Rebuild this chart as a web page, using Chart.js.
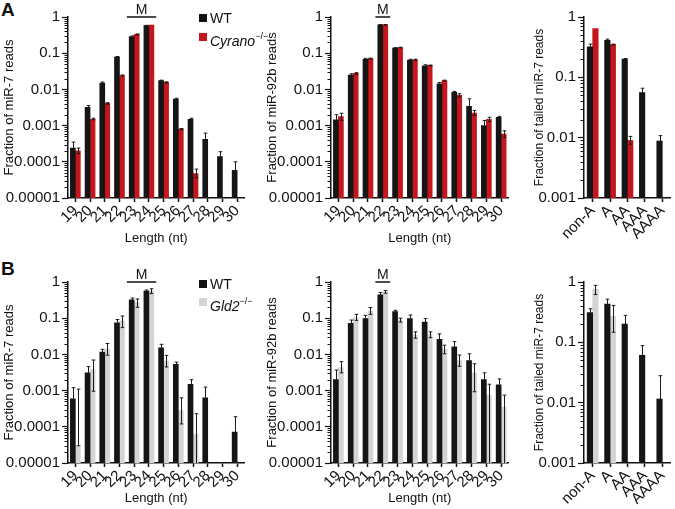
<!DOCTYPE html>
<html>
<head>
<meta charset="utf-8">
<script src="https://cdn.jsdelivr.net/npm/chart.js@4.4.1/dist/chart.umd.min.js"></script>
<style>
    body { margin: 0; background: #fff; font-family: "Liberation Sans", Arial, sans-serif; color: #111; }
    #fig { position: relative; width: 675px; height: 509px; overflow: hidden; }
    #fig canvas { position: absolute; }
    .panel-tag { position: absolute; font-weight: bold; font-size: 19px; line-height: 19px; }
    .leg { position: absolute; font-size: 14px; line-height: 14px; white-space: nowrap; }
    .leg .sw { position: absolute; left: -11px; top: 3px; width: 8px; height: 8px; }
    .leg sup { font-size: 9px; position: relative; top: -1px; }
</style>
</head>
<body>
<div id="fig">
    <div class="panel-tag" style="left:1px;top:0px">A</div>
    <div class="panel-tag" style="left:1px;top:259px">B</div>

    <canvas id="a7" width="250" height="250" style="left:0;top:0"></canvas>
    <canvas id="a92" width="252" height="250" style="left:262px;top:0"></canvas>
    <canvas id="aTail" width="160" height="250" style="left:515px;top:0"></canvas>
    <canvas id="b7" width="250" height="254" style="left:0;top:255px"></canvas>
    <canvas id="b92" width="252" height="254" style="left:262px;top:255px"></canvas>
    <canvas id="bTail" width="160" height="254" style="left:515px;top:255px"></canvas>

    <div class="leg" style="left:210px;top:11px"><span class="sw" style="background:#111"></span>WT</div>
    <div class="leg" style="left:210px;top:30px"><span class="sw" style="background:#c4161c"></span><i>Cyrano</i><sup>−/−</sup></div>
    <div class="leg" style="left:210px;top:277px"><span class="sw" style="background:#111"></span>WT</div>
    <div class="leg" style="left:210px;top:295px"><span class="sw" style="background:#d4d4d4"></span><i>Gld2</i><sup>−/−</sup></div>
</div>
<script>
(() => {
    'use strict';

    // categories
    const lengths = ['19', '20', '21', '22', '23', '24', '25', '26', '27', '28', '29', '30'];
    const tails = ['non-A', 'A', 'AA', 'AAA', 'AAAA'];

    // y tick labels (log axes)
    const lenDecades = [1e-5, 1e-4, 1e-3, 1e-2, 1e-1, 1];
    const lenTickLabels = ['0.00001', '0.0001', '0.001', '0.01', '0.1', '1'];
    const tailDecades = [1e-3, 1e-2, 1e-1, 1];
    const tailTickLabels = ['0.001', '0.01', '0.1', '1'];

    // A, miR-7 length distribution
    const a7Wt    = [2.4e-4, 3.2e-3, 0.015, 0.078, 0.29, 0.58, 0.0174, 0.0054, 0.0015, 4.2e-4, 1.4e-4, 5.8e-5];
    const a7WtHi  = [3.5e-4, 3.6e-3, 0.016, 0.081, 0.30, 0.59, 0.018, 0.0057, 0.0016, 6.2e-4, 1.9e-4, 1.0e-4];
    const a7Cy    = [2.0e-4, 1.5e-3, 0.0041, 0.024, 0.33, 0.60, 0.0157, 8.0e-4, 4.7e-5, null, null, null];
    const a7CyLo  = [1.7e-4, 1.45e-3, 0.0039, 0.0235, 0.32, null, 0.015, 7.7e-4, 3.6e-5, null, null, null];
    const a7CyHi  = [2.4e-4, 1.6e-3, 0.0043, 0.025, 0.34, null, 0.0162, 8.3e-4, 6.3e-5, null, null, null];

    // A, miR-92b length distribution
    const a92Wt   = [1.44e-3, 0.025, 0.068, 0.61, 0.138, 0.065, 0.045, 0.0143, 0.0083, 0.0034, 0.0010, 0.0017];
    const a92WtHi = [2.0e-3, 0.027, 0.072, 0.62, 0.142, 0.068, 0.048, 0.0155, 0.0088, 0.0055, 0.00138, 0.0018];
    const a92Cy   = [1.78e-3, 0.0277, 0.071, 0.61, 0.143, 0.066, 0.046, 0.0175, 0.0069, 0.0022, 0.0015, 5.8e-4];
    const a92CyLo = [1.4e-3, 0.026, 0.069, 0.60, 0.14, 0.064, 0.045, 0.017, 0.0062, 0.0019, 0.0013, 4.7e-4];
    const a92CyHi = [2.2e-3, 0.029, 0.073, 0.62, 0.146, 0.068, 0.047, 0.018, 0.0076, 0.0026, 0.0017, 7.2e-4];

    // A, tailed miR-7
    const aTailWt   = [0.32, 0.41, 0.20, 0.056, 0.0088];
    const aTailWtHi = [0.355, 0.43, 0.205, 0.066, 0.0108];
    const aTailCy   = [0.64, 0.35, 0.009, null, null];
    const aTailCyLo = [null, 0.345, 0.0078, null, null];
    const aTailCyHi = [null, 0.355, 0.0105, null, null];

    // B, miR-7 length distribution
    const b7Wt    = [5.9e-4, 3.1e-3, 0.0116, 0.075, 0.32, 0.56, 0.0153, 0.0053, 0.0015, 6.3e-4, null, 7.2e-5];
    const b7WtHi  = [1.2e-3, 4.6e-3, 0.0138, 0.092, 0.36, 0.60, 0.019, 0.0061, 0.0020, 1.25e-3, null, 1.9e-4];
    const b7Gl    = [3.0e-5, 3.8e-3, 0.014, 0.085, 0.27, 0.57, 0.0065, 2.8e-4, 6.3e-5, null, null, null];
    const b7GlLo  = [3.0e-5, 9.6e-4, 0.0095, 0.055, 0.20, 0.48, 0.0045, 1.2e-4, 1e-5, null, null, null];
    const b7GlHi  = [1.1e-3, 7.0e-3, 0.020, 0.115, 0.34, 0.65, 0.0094, 6.3e-4, 2.3e-4, null, null, null];

    // B, miR-92b length distribution
    const b92Wt   = [2.0e-3, 0.072, 0.097, 0.44, 0.152, 0.098, 0.0785, 0.026, 0.0163, 0.0067, 0.0020, 0.00145];
    const b92WtHi = [3.7e-3, 0.089, 0.12, 0.51, 0.165, 0.123, 0.098, 0.037, 0.0225, 0.0104, 0.0031, 0.0021];
    const b92Gl   = [4.3e-3, 0.104, 0.158, 0.53, 0.089, 0.034, 0.035, 0.0138, 0.0068, 0.0031, 7.5e-4, 3.5e-4];
    const b92GlLo = [3.1e-3, 0.087, 0.128, 0.49, 0.078, 0.028, 0.029, 0.0104, 0.0047, 9.3e-4, 1e-5, 1e-5];
    const b92GlHi = [6.3e-3, 0.128, 0.197, 0.58, 0.10, 0.042, 0.042, 0.018, 0.0096, 0.0055, 1.5e-3, 7.5e-4];

    // B, tailed miR-7
    const bTailWt   = [0.31, 0.43, 0.20, 0.061, 0.0115];
    const bTailWtHi = [0.36, 0.52, 0.28, 0.088, 0.028];
    const bTailGl   = [0.76, 0.27, null, null, null];
    const bTailGlLo = [0.62, 0.147, null, null, null];
    const bTailGlHi = [0.88, 0.41, null, null, null];

    const BLACK = '#151515';
    const RED = '#c4161c';
    const GREY = '#d4d4d4';
    const FONT = '"Liberation Sans", Arial, sans-serif';

    // minor log ticks, error bars and the "M" marker
    const extrasPlugin = {
        id: 'extras',
        afterDatasetsDraw(chart, args, opts) {
            const ctx = chart.ctx;
            const xs = chart.scales.x;
            const ys = chart.scales.y;
            const area = chart.chartArea;
            ctx.save();
            ctx.strokeStyle = '#111';
            ctx.lineWidth = 1;
            const decs = opts.decades;
            for (let d = 0; d < decs.length - 1; d++) {
                for (let m = 2; m <= 9; m++) {
                    const py = Math.round(ys.getPixelForValue(decs[d] * m)) + 0.5;
                    ctx.beginPath();
                    ctx.moveTo(area.left - 3.5, py);
                    ctx.lineTo(area.left, py);
                    ctx.stroke();
                }
            }

            chart.data.datasets.forEach((ds, i) => {
                const meta = chart.getDatasetMeta(i);
                meta.data.forEach((bar, j) => {
                    if (ds.data[j] == null) {
                        return;
                    }
                    const hi = ds.errHi ? ds.errHi[j] : null;
                    const lo = ds.errLo ? ds.errLo[j] : null;
                    if (hi == null && lo == null) {
                        return;
                    }
                    const cx = Math.round(bar.x) + 0.5;
                    const top = hi != null ? ys.getPixelForValue(hi) : bar.y;
                    const bot = lo != null ? Math.min(ys.getPixelForValue(lo), area.bottom) : bar.y;
                    ctx.strokeStyle = '#1a1a1a';
                    ctx.lineWidth = 1;
                    ctx.beginPath();
                    ctx.moveTo(cx, top);
                    ctx.lineTo(cx, bot);
                    if (hi != null) {
                        ctx.moveTo(cx - 1.8, top);
                        ctx.lineTo(cx + 1.8, top);
                    }
                    if (lo != null && bot < area.bottom) {
                        ctx.moveTo(cx - 1.8, bot);
                        ctx.lineTo(cx + 1.8, bot);
                    }
                    ctx.stroke();
                });
            });

            if (opts.mark) {
                const half = (xs.getPixelForValue(1) - xs.getPixelForValue(0)) / 2;
                const x0 = xs.getPixelForValue(xs.getLabels().indexOf(opts.mark[0])) - half;
                const x1 = xs.getPixelForValue(xs.getLabels().indexOf(opts.mark[1])) + half;
                const yy = area.top;
                ctx.strokeStyle = '#111';
                ctx.lineWidth = 1.5;
                ctx.beginPath();
                ctx.moveTo(x0, yy);
                ctx.lineTo(x1, yy);
                ctx.stroke();
                ctx.fillStyle = '#111';
                ctx.font = '14px ' + FONT;
                ctx.textAlign = 'center';
                ctx.textBaseline = 'alphabetic';
                ctx.fillText('M', (x0 + x1) / 2, yy - 3);
            }
            ctx.restore();
        }
    };

    function makePanel(id, p)
    {
        const canvas = document.getElementById(id);
        return new Chart(canvas.getContext('2d'), {
            type: 'bar',
            data: {
                labels: p.labels,
                datasets: p.series.map(s => ({
                    data: s.data,
                    errLo: s.lo,
                    errHi: s.hi,
                    backgroundColor: s.color,
                    borderWidth: 0,
                    barThickness: p.barWidth
                }))
            },
            options: {
                responsive: false,
                devicePixelRatio: 1,
                animation: false,
                events: [],
                layout: { padding: { top: p.padTop, right: p.padRight, left: 0, bottom: 0 } },
                plugins: {
                    legend: { display: false },
                    tooltip: { enabled: false },
                    extras: { decades: p.decades, mark: p.mark }
                },
                scales: {
                    x: {
                        type: 'category',
                        offset: true,
                        grid: { display: true, drawOnChartArea: false, offset: false, tickLength: 4, tickWidth: 1.5, tickColor: '#111' },
                        border: { display: true, color: '#111', width: 1.5 },
                        ticks: { color: '#111', font: { family: FONT, size: 15 }, minRotation: 45, maxRotation: 45, autoSkip: false, padding: 0 },
                        title: { display: !!p.xTitle, text: p.xTitle, color: '#111', font: { family: FONT, size: 13 }, padding: { top: 0, bottom: p.xTitlePad } },
                        afterFit: (scale) => { scale.height = p.xHeight; }
                    },
                    y: {
                        type: 'logarithmic',
                        min: p.decades[0],
                        max: p.decades[p.decades.length - 1],
                        grid: { display: true, drawOnChartArea: false, tickLength: 6, tickWidth: 1.2, tickColor: '#111' },
                        border: { display: true, color: '#111', width: 1.5 },
                        afterBuildTicks: (scale) => { scale.ticks = p.decades.map(v => ({ value: v, major: true })); },
                        ticks: {
                            color: '#111',
                            font: { family: FONT, size: 15 },
                            padding: 2,
                            autoSkip: false,
                            callback: (value) => p.tickLabels[p.decades.indexOf(value)]
                        },
                        title: { display: true, text: p.yTitle, color: '#111', font: { family: FONT, size: p.yTitleSize }, padding: { top: p.yTitlePad, bottom: 0 } },
                        afterFit: (scale) => { scale.width = p.yWidth; }
                    }
                }
            },
            plugins: [extrasPlugin]
        });
    }

    makePanel('a7', {
        labels: lengths, decades: lenDecades, tickLabels: lenTickLabels,
        yTitle: 'Fraction of miR-7 reads', xTitle: 'Length (nt)', mark: ['23', '24'],
        series: [
            { data: a7Wt, hi: a7WtHi, color: BLACK },
            { data: a7Cy, lo: a7CyLo, hi: a7CyHi, color: RED }
        ],
        barWidth: 5, padTop: 17, padRight: 3, yWidth: 68, xHeight: 52, xTitlePad: 3.5, yTitlePad: 1.2, yTitleSize: 13
    });
    makePanel('a92', {
        labels: lengths, decades: lenDecades, tickLabels: lenTickLabels,
        yTitle: 'Fraction of miR-92b reads', xTitle: 'Length (nt)', mark: ['22', '22'],
        series: [
            { data: a92Wt, hi: a92WtHi, color: BLACK },
            { data: a92Cy, lo: a92CyLo, hi: a92CyHi, color: RED }
        ],
        barWidth: 5, padTop: 17, padRight: 3, yWidth: 69, xHeight: 52, xTitlePad: 3.5, yTitlePad: 2.2, yTitleSize: 13
    });
    makePanel('aTail', {
        labels: tails, decades: tailDecades, tickLabels: tailTickLabels,
        yTitle: 'Fraction of tailed miR-7 reads', xTitle: '', mark: null,
        series: [
            { data: aTailWt, hi: aTailWtHi, color: BLACK },
            { data: aTailCy, lo: aTailCyLo, hi: aTailCyHi, color: RED }
        ],
        barWidth: 5.5, padTop: 17, padRight: 0, yWidth: 69, xHeight: 52, xTitlePad: 3.5, yTitlePad: 17.8, yTitleSize: 12
    });
    makePanel('b7', {
        labels: lengths, decades: lenDecades, tickLabels: lenTickLabels,
        yTitle: 'Fraction of miR-7 reads', xTitle: 'Length (nt)', mark: ['23', '24'],
        series: [
            { data: b7Wt, hi: b7WtHi, color: BLACK },
            { data: b7Gl, lo: b7GlLo, hi: b7GlHi, color: GREY }
        ],
        barWidth: 5, padTop: 27, padRight: 3, yWidth: 68, xHeight: 46, xTitlePad: 2.5, yTitlePad: 1.2, yTitleSize: 13
    });
    makePanel('b92', {
        labels: lengths, decades: lenDecades, tickLabels: lenTickLabels,
        yTitle: 'Fraction of miR-92b reads', xTitle: 'Length (nt)', mark: ['22', '22'],
        series: [
            { data: b92Wt, hi: b92WtHi, color: BLACK },
            { data: b92Gl, lo: b92GlLo, hi: b92GlHi, color: GREY }
        ],
        barWidth: 5, padTop: 27, padRight: 3, yWidth: 69, xHeight: 46, xTitlePad: 2.5, yTitlePad: 2.2, yTitleSize: 13
    });
    makePanel('bTail', {
        labels: tails, decades: tailDecades, tickLabels: tailTickLabels,
        yTitle: 'Fraction of tailed miR-7 reads', xTitle: '', mark: null,
        series: [
            { data: bTailWt, hi: bTailWtHi, color: BLACK },
            { data: bTailGl, lo: bTailGlLo, hi: bTailGlHi, color: GREY }
        ],
        barWidth: 5.5, padTop: 27, padRight: 0, yWidth: 69, xHeight: 46, xTitlePad: 2.5, yTitlePad: 17.8, yTitleSize: 12
    });
})();
</script>
</body>
</html>
